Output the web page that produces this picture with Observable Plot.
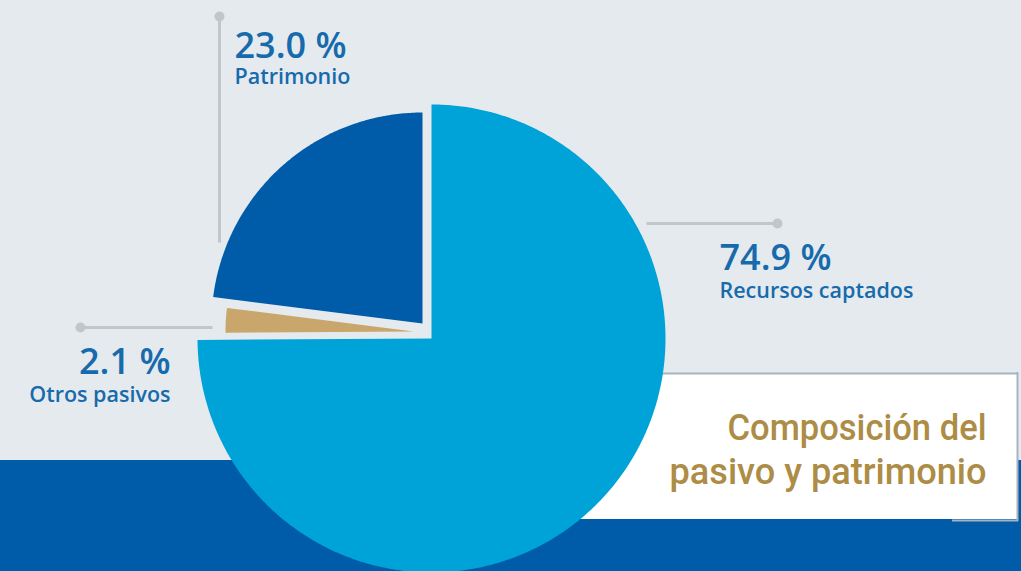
<!DOCTYPE html>
<html>
<head>
<meta charset="utf-8">
<script src="https://cdn.jsdelivr.net/npm/d3@7"></script>
<script src="https://cdn.jsdelivr.net/npm/@observablehq/plot@0.6"></script>
<style>
  html, body { margin: 0; padding: 0; background: #e5eaef; }
  #chart svg { display: block; }
</style>
</head>
<body>
<div id="chart"></div>
<script>
// ---- Data ----
const categories = ["Recursos captados", "Otros pasivos", "Patrimonio"];
const values = [74.9, 2.1, 23.0];
const valueLabels = ["74.9 %", "2.1 %", "23.0 %"];
const sliceColors = ["#00a3d8", "#c9a66b", "#005ca9"];
const titleLines = ["Composición del", "pasivo y patrimonio"];

// ---- Layout (exploded pie: each slice has its own centre and radius) ----
const sliceCenters = [[431, 338], [413, 331], [422, 323]];
const sliceRadii = [234, 188, 211];
const labelPos = [
  {x: 719, base: 269, sub: 297, anchor: "start"},
  {x: 170, base: 373, sub: 401, anchor: "end"},
  {x: 234, base: 57, sub: 83, anchor: "start"}
];
const leaders = [
  {x1: 646, y1: 223, x2: 777, y2: 223},
  {x1: 212, y1: 327, x2: 80, y2: 327},
  {x1: 219, y1: 242, x2: 219, y2: 16}
];

const W = 1021, H = 571;
const pie = d3.pie().sort(null).value(d => d)(values);

// slice outlines built from the pie angles
const slicePts = [];
pie.forEach((p, i) => {
  const [cx, cy] = sliceCenters[i];
  const r = sliceRadii[i];
  slicePts.push({k: categories[i], c: sliceColors[i], x: cx, y: cy});
  const n = Math.max(8, Math.ceil((p.endAngle - p.startAngle) / 0.01));
  for (let j = 0; j <= n; j++) {
    const a = p.startAngle + (p.endAngle - p.startAngle) * j / n;
    slicePts.push({k: categories[i], c: sliceColors[i], x: cx + r * Math.sin(a), y: cy - r * Math.cos(a)});
  }
});

const labelFont = "Open Sans, Lato, sans-serif";
const labelColor = "#176aab";
const VS = 36, NS = 21.5, TS = 36;
const valueText = categories.map((c, i) => ({t: valueLabels[i], x: labelPos[i].x, y: labelPos[i].base - 0.32 * VS, a: labelPos[i].anchor}));
const nameText = categories.map((c, i) => ({t: c, x: labelPos[i].x, y: labelPos[i].sub - 0.32 * NS, a: labelPos[i].anchor}));
const titleText = titleLines.map((t, i) => ({t, x: 986, y: [439, 483][i] - 0.32 * TS}));

const textMarks = [];
for (const anchor of ["start", "end"]) {
  textMarks.push(Plot.text(valueText.filter(d => d.a === anchor), {x: "x", y: "y", text: "t", textAnchor: anchor, fontSize: VS, fontWeight: 600, fill: labelColor, fontFamily: labelFont}));
  textMarks.push(Plot.text(nameText.filter(d => d.a === anchor), {x: "x", y: "y", text: "t", textAnchor: anchor, fontSize: NS, fontWeight: 600, fill: labelColor, fontFamily: labelFont}));
}

const chart = Plot.plot({
  width: W,
  height: H,
  margin: 0,
  x: {domain: [0, W], range: [0, W], axis: null},
  y: {domain: [0, H], range: [0, H], axis: null},
  style: {background: "#e5eaef", overflow: "visible"},
  marks: [
    // bottom band
    Plot.rect([{x1: 0, x2: W, y1: 460, y2: H}], {x1: "x1", x2: "x2", y1: "y1", y2: "y2", fill: "#005ca9"}),
    // title box
    Plot.rect([{x1: 560, x2: 1017, y1: 373, y2: 519}], {x1: "x1", x2: "x2", y1: "y1", y2: "y2", fill: "#ffffff"}),
    Plot.ruleY([373], {x1: 560, x2: 1018, stroke: "#a7b3bf", strokeWidth: 2}),
    Plot.ruleX([1017], {y1: 372, y2: 521, stroke: "#a7b3bf", strokeWidth: 2}),
    Plot.ruleY([520], {x1: 952, x2: 1018, stroke: "#a7b3bf", strokeWidth: 2}),
    // pie slices
    Plot.line(slicePts, {x: "x", y: "y", z: "k", fill: "c", stroke: "none", curve: "linear"}),
    // leader lines
    Plot.link(leaders, {x1: "x1", y1: "y1", x2: "x2", y2: "y2", stroke: "#c2c5c9", strokeWidth: 3}),
    Plot.dot(leaders, {x: "x2", y: "y2", r: 5, fill: "#c2c5c9", stroke: "none"}),
    // labels
    ...textMarks,
    // title
    Plot.text(titleText, {x: "x", y: "y", text: "t", textAnchor: "end", fontSize: TS, fontWeight: 500, fill: "#ad8c45", fontFamily: "Roboto, sans-serif", className: "chart-title"})
  ]
});
document.getElementById("chart").appendChild(chart);

// condense the title lines to the reference's narrow lettering
const titleWidths = [259, 317];
d3.select(chart).selectAll(".chart-title text").each(function(d, i) {
  d3.select(this).attr("textLength", titleWidths[i]).attr("lengthAdjust", "spacingAndGlyphs");
});
</script>
</body>
</html>
